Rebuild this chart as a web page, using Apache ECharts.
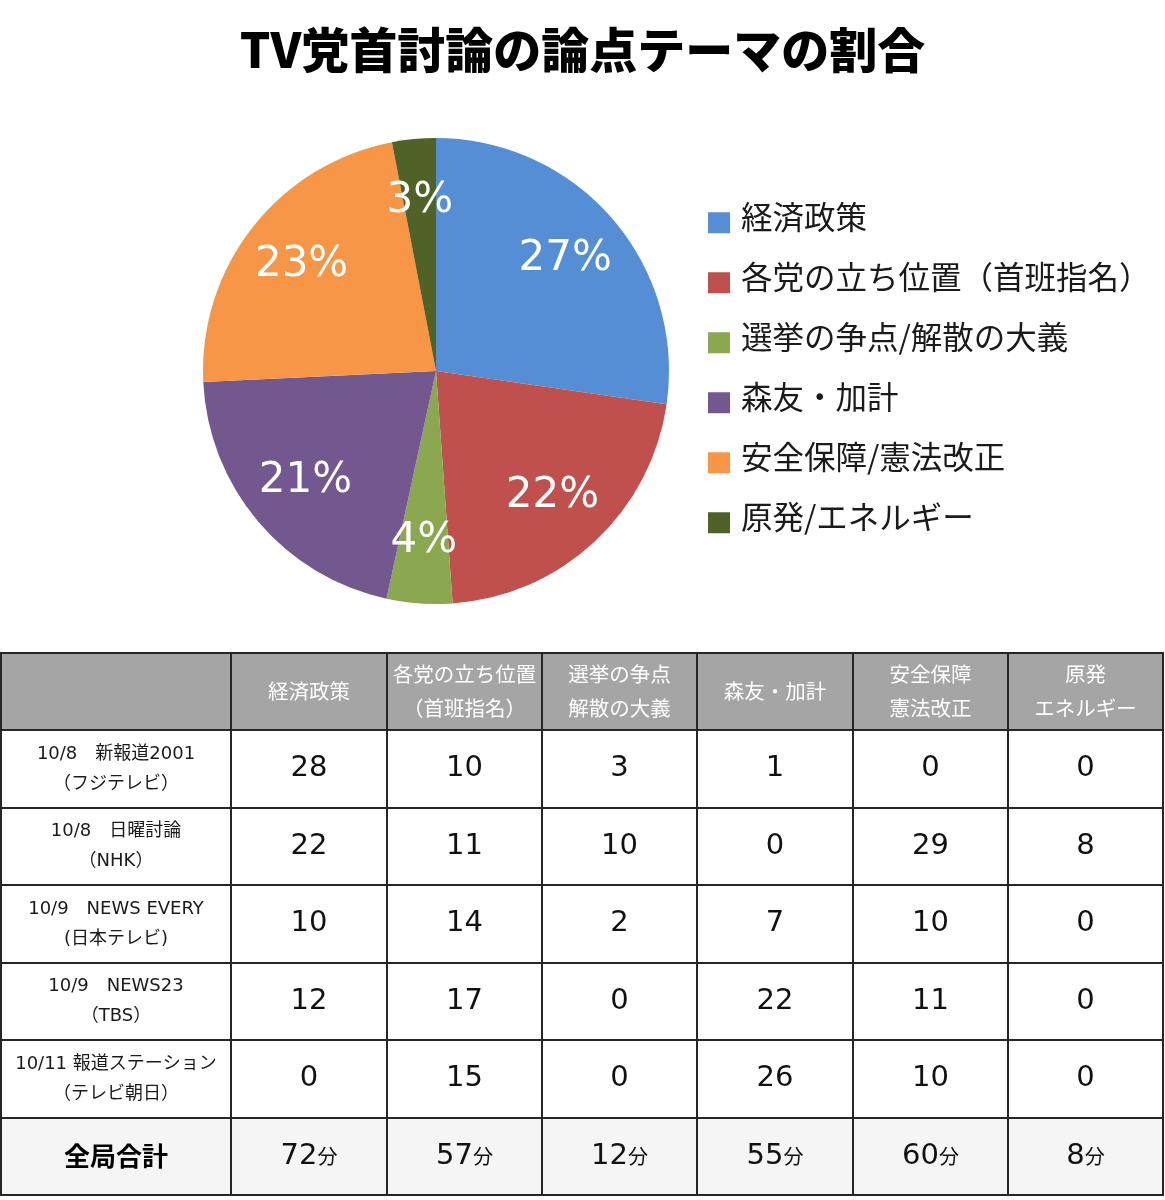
<!DOCTYPE html>
<html>
<head>
<meta charset="utf-8">
<script src="https://cdn.jsdelivr.net/npm/echarts@6/dist/echarts.min.js"></script>
<style>
html,body{margin:0;padding:0;background:#fff;}
#c{width:1165px;height:1200px;}
</style>
</head>
<body>
<div id="c"></div>
<script>
// ---- data ----
const titleText = 'TV党首討論の論点テーマの割合';
const categories = ['経済政策', '各党の立ち位置（首班指名）', '選挙の争点/解散の大義', '森友・加計', '安全保障/憲法改正', '原発/エネルギー'];
const totals = [72, 57, 12, 55, 60, 8];
const colors = ['#558ed5', '#c0504d', '#8ba74f', '#72588f', '#f79646', '#4f6228'];
const headerLabels = ['経済政策', '各党の立ち位置\n（首班指名）', '選挙の争点\n解散の大義', '森友・加計', '安全保障\n憲法改正', '原発\nエネルギー'];
const programs = ['10/8　新報道2001\n（フジテレビ）', '10/8　日曜討論\n（NHK）', '10/9　NEWS EVERY\n(日本テレビ)', '10/9　NEWS23\n（TBS）', '10/11 報道ステーション\n（テレビ朝日）'];
const totalLabel = '全局合計';
const unit = '分';
const minutes = [
  [28, 10, 3, 1, 0, 0],
  [22, 11, 10, 0, 29, 8],
  [10, 14, 2, 7, 10, 0],
  [12, 17, 0, 22, 11, 0],
  [0, 15, 0, 26, 10, 0]
];

// ---- build ----
const BORDER = '#262626';
const CJK = '"Noto Sans CJK JP", "Noto Sans", sans-serif';
const NUM = '"DejaVu Sans", "Noto Sans CJK JP", sans-serif';
const LINE_H = 72;

const pieData = categories.map((n, i) => ({ name: n, value: totals[i], itemStyle: { color: colors[i] } }));

const bodyData = [];
minutes.forEach((row, r) => {
  row.forEach((v, c) => {
    bodyData.push({ coord: [c, r], value: '{n|' + v + '}' });
  });
});
totals.forEach((v, c) => {
  bodyData.push({
    coord: [c, programs.length],
    value: '{n|' + v + '}{u|' + unit + '}',
    itemStyle: { color: '#f5f5f5', borderColor: BORDER, borderWidth: 2 }
  });
});

const chart = echarts.init(document.getElementById('c'), null, { renderer: 'canvas' });
chart.setOption({
  animation: false,
  backgroundColor: '#fff',
  color: colors,
  title: {
    text: titleText,
    left: 'center',
    top: 21,
    textStyle: { fontSize: 48, fontWeight: 900, color: '#000', fontFamily: CJK }
  },
  legend: {
    orient: 'vertical',
    left: 708,
    top: 201,
    padding: 0,
    icon: 'rect',
    itemWidth: 22,
    itemHeight: 21,
    itemGap: 16.5,
    data: categories,
    formatter: name => '{t|' + name + '}',
    textStyle: {
      fontSize: 31.5, color: '#1a1a1a', fontFamily: CJK,
      rich: {
        t: { fontSize: 31.5, lineHeight: 34, color: '#1a1a1a', fontFamily: CJK, padding: [0, 0, 12, 6] }
      }
    }
  },
  matrix: {
    left: 1,
    top: 653,
    width: 1162,
    height: 542,
    backgroundStyle: { color: '#fff', borderColor: BORDER, borderWidth: 2 },
    x: {
      data: headerLabels,
      levelSize: 77,
      itemStyle: { color: '#a5a5a5', borderColor: BORDER, borderWidth: 2 },
      label: { color: '#fff', fontSize: 20.5, lineHeight: 34, fontFamily: CJK },
      dividerLineStyle: { color: BORDER, width: 2 }
    },
    y: {
      data: programs.concat([{ value: totalLabel, label: { fontSize: 26, fontWeight: 'bold', color: '#000', fontFamily: CJK }, itemStyle: { color: '#f5f5f5' } }]),
      levelSize: 230,
      itemStyle: { color: '#fff', borderColor: BORDER, borderWidth: 2 },
      label: { color: '#1a1a1a', fontSize: 18, lineHeight: 30, fontFamily: NUM },
      dividerLineStyle: { color: BORDER, width: 2 }
    },
    corner: {
      itemStyle: { color: '#a5a5a5', borderColor: BORDER, borderWidth: 2 }
    },
    body: {
      data: bodyData,
      itemStyle: { color: '#fff', borderColor: BORDER, borderWidth: 2 },
      label: {
        align: 'center',
        verticalAlign: 'middle',
        overflow: 'none',
        lineOverflow: 'none',
        color: '#111', fontSize: 29, fontFamily: NUM,
        rich: {
          n: { fontSize: 29, lineHeight: LINE_H, color: '#111', fontFamily: NUM },
          u: { fontSize: 20, lineHeight: LINE_H, color: '#111', fontFamily: CJK }
        }
      }
    }
  },
  series: [
    {
      type: 'pie',
      center: [436, 371],
      radius: 233,
      startAngle: 90,
      clockwise: true,
      percentPrecision: 0,
      label: { show: false },
      labelLine: { show: false },
      emphasis: { disabled: true },
      itemStyle: { borderWidth: 0 },
      data: pieData
    },
    {
      type: 'pie',
      center: [436, 371],
      radius: 336,
      startAngle: 90,
      clockwise: true,
      percentPrecision: 0,
      silent: true,
      legendHoverLink: false,
      emphasis: { disabled: true },
      itemStyle: { color: 'rgba(0,0,0,0)', borderWidth: 0 },
      labelLine: { show: false },
      label: {
        show: true,
        position: 'inside',
        formatter: '{d}%',
        color: '#fff',
        fontSize: 42,
        fontFamily: '"DejaVu Sans", sans-serif'
      },
      data: categories.map((n, i) => ({ name: n, value: totals[i] }))
    }
  ]
});
</script>
</body>
</html>
